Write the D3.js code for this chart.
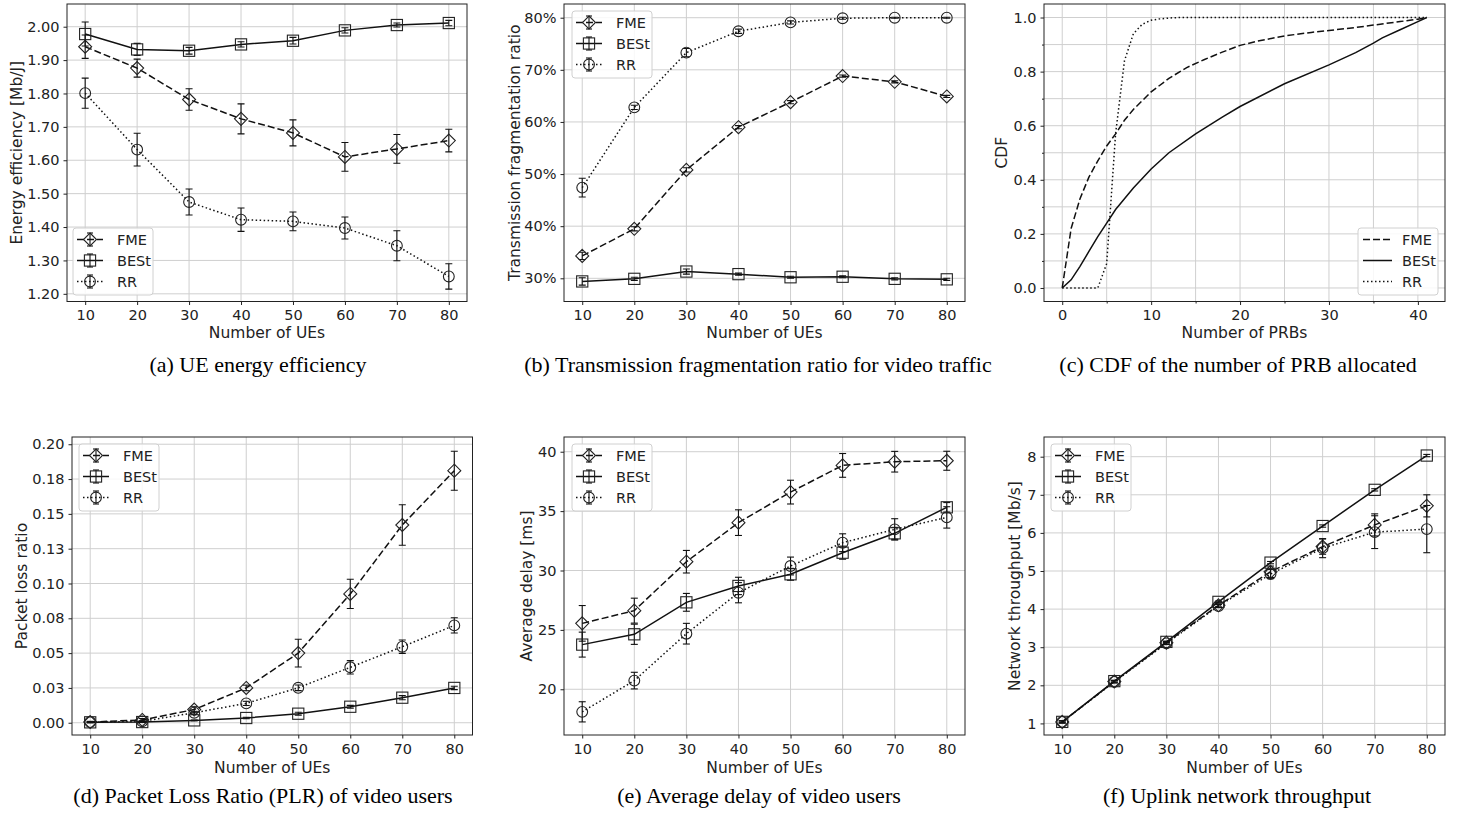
<!DOCTYPE html>
<html><head><meta charset="utf-8">
<script src="https://cdn.jsdelivr.net/npm/d3@7"></script>
<style>body{margin:0;background:#fff}svg{display:block}</style>
</head><body>
<script>
// ---------------- DATA ----------------
const ues = [10, 20, 30, 40, 50, 60, 70, 80];
const seriesNames = ["FME", "BESt", "RR"];

// (a) UE energy efficiency [Mb/J]
const eeFME = [1.940, 1.876, 1.782, 1.724, 1.682, 1.610, 1.634, 1.659];
const eeFMEErr = [0.035, 0.027, 0.032, 0.045, 0.039, 0.043, 0.043, 0.034];
const eeBESt = [1.978, 1.932, 1.928, 1.947, 1.958, 1.989, 2.005, 2.011];
const eeBEStErr = [0.036, 0.018, 0.010, 0.008, 0.010, 0.008, 0.006, 0.008];
const eeRR = [1.801, 1.632, 1.475, 1.422, 1.417, 1.397, 1.344, 1.252];
const eeRRErr = [0.045, 0.049, 0.039, 0.035, 0.028, 0.033, 0.045, 0.038];
const eeTicks = [1.2, 1.3, 1.4, 1.5, 1.6, 1.7, 1.8, 1.9, 2.0];
const eeTickLabels = ["1.20", "1.30", "1.40", "1.50", "1.60", "1.70", "1.80", "1.90", "2.00"];

// (b) Transmission fragmentation ratio [%]
const fragFME = [34.3, 39.5, 50.8, 59.0, 63.8, 68.8, 67.7, 64.9];
const fragFMEErr = [0.7, 0.4, 0.4, 0.3, 0.3, 0.2, 0.2, 0.2];
const fragBESt = [29.4, 29.9, 31.3, 30.8, 30.2, 30.3, 29.9, 29.8];
const fragBEStErr = [0.7, 0.3, 0.5, 0.2, 0.2, 0.2, 0.2, 0.2];
const fragRR = [47.4, 62.8, 73.3, 77.4, 79.1, 79.9, 80.0, 80.0];
const fragRRErr = [1.8, 0.4, 0.8, 0.4, 0.3, 0.2, 0.1, 0.1];
const fragTicks = [30, 40, 50, 60, 70, 80];
const fragTickLabels = ["30%", "40%", "50%", "60%", "70%", "80%"];

// (c) CDF of the number of PRBs allocated
const cdfFMEx = [0, 1, 2, 3, 4, 5, 6, 7, 8, 10, 12, 14, 16, 18, 20, 22, 25, 28, 30, 33, 35, 38, 40, 41];
const cdfFMEy = [0, 0.22, 0.33, 0.41, 0.47, 0.525, 0.57, 0.62, 0.66, 0.725, 0.775, 0.815, 0.845, 0.872, 0.897, 0.913, 0.932, 0.945, 0.952, 0.963, 0.972, 0.985, 0.994, 1.0];
const cdfBEStx = [0, 1, 2, 3, 4, 5, 6, 8, 10, 12, 15, 18, 20, 25, 30, 33, 35, 36, 38, 40, 41];
const cdfBESty = [0, 0.03, 0.08, 0.135, 0.19, 0.24, 0.29, 0.37, 0.44, 0.5, 0.57, 0.632, 0.671, 0.755, 0.825, 0.87, 0.905, 0.925, 0.955, 0.985, 1.0];
const cdfRRx = [0, 4, 5, 6, 7, 8, 9, 10, 11, 12, 13, 41];
const cdfRRy = [0, 0, 0.09, 0.57, 0.84, 0.94, 0.975, 0.99, 0.995, 0.998, 1.0, 1.0];
const prbTicks = [0, 10, 20, 30, 40];
const prbMinorTicks = [5, 15, 25, 35];
const cdfTicks = [0, 0.2, 0.4, 0.6, 0.8, 1.0];
const cdfMinorTicks = [0.1, 0.3, 0.5, 0.7, 0.9];

// (d) Packet loss ratio
const plrFME = [0.0005, 0.002, 0.0095, 0.025, 0.050, 0.0925, 0.142, 0.181];
const plrFMEErr = [0.0005, 0.001, 0.002, 0.002, 0.010, 0.0105, 0.0145, 0.014];
const plrBESt = [0.0003, 0.0005, 0.0017, 0.0034, 0.0065, 0.0115, 0.018, 0.025];
const plrBEStErr = [0.0003, 0.0003, 0.0003, 0.0005, 0.001, 0.001, 0.0015, 0.0012];
const plrRR = [0.0005, 0.001, 0.0072, 0.0139, 0.0251, 0.0398, 0.0546, 0.0699];
const plrRRErr = [0.0003, 0.0005, 0.001, 0.0015, 0.002, 0.0048, 0.0048, 0.0055];
const plrTicks = [0, 0.025, 0.05, 0.075, 0.1, 0.125, 0.15, 0.175, 0.2];
const plrTickLabels = ["0.00", "0.03", "0.05", "0.08", "0.10", "0.13", "0.15", "0.18", "0.20"];

// (e) Average delay [ms]
const delFME = [25.55, 26.62, 30.74, 34.03, 36.6, 38.85, 39.16, 39.24];
const delFMEErr = [1.5, 1.05, 0.95, 1.08, 1.0, 1.0, 0.87, 0.8];
const delBESt = [23.76, 24.63, 27.32, 28.7, 29.68, 31.5, 33.13, 35.32];
const delBEStErr = [1.05, 0.85, 0.75, 0.73, 0.5, 0.55, 0.5, 0.4];
const delRR = [18.1, 20.73, 24.68, 28.13, 30.38, 32.34, 33.46, 34.47];
const delRRErr = [0.85, 0.7, 0.87, 0.85, 0.75, 0.75, 0.9, 0.9];
const delTicks = [20, 25, 30, 35, 40];

// (f) Uplink network throughput [Mb/s]
const thrFME = [1.04, 2.10, 3.12, 4.10, 4.98, 5.64, 6.21, 6.71];
const thrFMEErr = [0.03, 0.03, 0.03, 0.04, 0.15, 0.2, 0.29, 0.29];
const thrBESt = [1.04, 2.11, 3.14, 4.19, 5.22, 6.18, 7.13, 8.03];
const thrBEStErr = [0.02, 0.02, 0.02, 0.02, 0.03, 0.03, 0.03, 0.03];
const thrRR = [1.04, 2.09, 3.10, 4.08, 4.92, 5.60, 6.02, 6.10];
const thrRRErr = [0.03, 0.03, 0.03, 0.04, 0.12, 0.25, 0.43, 0.62];
const thrTicks = [1, 2, 3, 4, 5, 6, 7, 8];

const captions = [
  "(a) UE energy efficiency",
  "(b) Transmission fragmentation ratio for video traffic",
  "(c) CDF of the number of PRB allocated",
  "(d) Packet Loss Ratio (PLR) of video users",
  "(e) Average delay of video users",
  "(f) Uplink network throughput"
];

// ---------------- STYLE ----------------
const INK = "#111";
const GRID = "#cfcfcf";
const FONT = "'DejaVu Sans', sans-serif";
const styleOf = {
  FME: {dash: "7,3", marker: "diamond"},
  BESt: {dash: null, marker: "square"},
  RR: {dash: "1.5,2.5", marker: "circle"}
};

const svg = d3.select("body").append("svg").attr("width", 1458).attr("height", 814);
svg.append("rect").attr("width", 1458).attr("height", 814).attr("fill", "#fff");

function drawMarker(g, type, cx, cy) {
  if (type === "diamond") {
    const s = 6.5;
    g.append("path").attr("d", `M${cx},${cy - s}L${cx + s},${cy}L${cx},${cy + s}L${cx - s},${cy}Z`)
      .attr("fill", "none").attr("stroke", "#222").attr("stroke-width", 1.1);
  } else if (type === "square") {
    const s = 5.6;
    g.append("rect").attr("x", cx - s).attr("y", cy - s).attr("width", 2 * s).attr("height", 2 * s)
      .attr("fill", "none").attr("stroke", "#222").attr("stroke-width", 1.1);
  } else {
    g.append("circle").attr("cx", cx).attr("cy", cy).attr("r", 5.4)
      .attr("fill", "none").attr("stroke", "#222").attr("stroke-width", 1.1);
  }
}

function panel(cfg) {
  const g = svg.append("g");
  const x = d3.scaleLinear().domain(cfg.xDomain).range([cfg.l, cfg.r]);
  const y = d3.scaleLinear().domain(cfg.yDomain).range([cfg.b, cfg.t]);
  // grid
  g.append("g").selectAll("line").data(cfg.xGrid).join("line")
    .attr("x1", d => x(d)).attr("x2", d => x(d)).attr("y1", cfg.t).attr("y2", cfg.b)
    .attr("stroke", GRID).attr("stroke-width", 1);
  g.append("g").selectAll("line").data(cfg.yGrid).join("line")
    .attr("y1", d => y(d)).attr("y2", d => y(d)).attr("x1", cfg.l).attr("x2", cfg.r)
    .attr("stroke", GRID).attr("stroke-width", 1);
  // axes
  const ax = g.append("g").attr("transform", `translate(0,${cfg.b})`)
    .call(d3.axisBottom(x).tickValues(cfg.xTicks).tickFormat(cfg.xFmt).tickSize(3.5).tickPadding(5));
  const ay = g.append("g").attr("transform", `translate(${cfg.l},0)`)
    .call(d3.axisLeft(y).tickValues(cfg.yTicks).tickFormat(cfg.yFmt).tickSize(3.5).tickPadding(4));
  [ax, ay].forEach(a => {
    a.select(".domain").remove();
    a.selectAll("line").attr("stroke", "#222");
    a.selectAll("text").attr("font-family", FONT).attr("font-size", 14.5).attr("fill", "#222");
  });
  if (cfg.xMinor) {
    g.append("g").attr("transform", `translate(0,${cfg.b})`)
      .call(d3.axisBottom(x).tickValues(cfg.xMinor).tickFormat("").tickSize(2))
      .call(a => { a.select(".domain").remove(); a.selectAll("line").attr("stroke", "#222"); });
    g.append("g").attr("transform", `translate(${cfg.l},0)`)
      .call(d3.axisLeft(y).tickValues(cfg.yMinor).tickFormat("").tickSize(2))
      .call(a => { a.select(".domain").remove(); a.selectAll("line").attr("stroke", "#222"); });
  }
  // series
  const clip = "clip" + cfg.id;
  g.append("clipPath").attr("id", clip).append("rect")
    .attr("x", cfg.l).attr("y", cfg.t).attr("width", cfg.r - cfg.l).attr("height", cfg.b - cfg.t);
  const sg = g.append("g").attr("clip-path", `url(#${clip})`);
  cfg.series.forEach(s => {
    const st = styleOf[s.name];
    const pts = s.xs.map((xv, i) => [xv, s.ys[i]]);
    const line = d3.line().x(d => x(d[0])).y(d => y(d[1]));
    const p = sg.append("path").attr("d", line(pts)).attr("fill", "none")
      .attr("stroke", INK).attr("stroke-width", 1.5);
    if (st.dash) p.attr("stroke-dasharray", st.dash);
    if (s.errs) {
      pts.forEach((d, i) => {
        const e = s.errs[i];
        const cx = x(d[0]), y1 = y(d[1] - e), y2 = y(d[1] + e);
        sg.append("line").attr("x1", cx).attr("x2", cx).attr("y1", y1).attr("y2", y2)
          .attr("stroke", INK).attr("stroke-width", 1.1);
        [y1, y2].forEach(yy => sg.append("line").attr("x1", cx - 3.5).attr("x2", cx + 3.5)
          .attr("y1", yy).attr("y2", yy).attr("stroke", INK).attr("stroke-width", 1.1));
      });
      pts.forEach(d => drawMarker(sg, st.marker, x(d[0]), y(d[1])));
    }
  });
  // frame
  g.append("rect").attr("x", cfg.l).attr("y", cfg.t).attr("width", cfg.r - cfg.l).attr("height", cfg.b - cfg.t)
    .attr("fill", "none").attr("stroke", "#222").attr("stroke-width", 1);
  // labels
  g.append("text").attr("x", (cfg.l + cfg.r) / 2).attr("y", cfg.xLabelY).attr("text-anchor", "middle")
    .attr("font-family", FONT).attr("font-size", 15.5).attr("fill", "#222").text(cfg.xLabel);
  g.append("text").attr("transform", `translate(${cfg.yLabelX},${(cfg.t + cfg.b) / 2}) rotate(-90)`)
    .attr("text-anchor", "middle").attr("dy", "0.35em")
    .attr("font-family", FONT).attr("font-size", 15.5).attr("fill", "#222").text(cfg.yLabel);
  // legend
  const lg = g.append("g");
  const lx = cfg.legend[0], ly = cfg.legend[1];
  lg.append("rect").attr("x", lx).attr("y", ly).attr("width", 80).attr("height", 67).attr("rx", 3)
    .attr("fill", "#fff").attr("fill-opacity", 0.85).attr("stroke", "#d0d0d0").attr("stroke-width", 1);
  cfg.series.forEach((s, i) => {
    const st = styleOf[s.name];
    const ry = ly + 11.5 + i * 21;
    const withErr = !!s.errs;
    const x1 = withErr ? lx + 4 : lx + 5, x2 = withErr ? lx + 30 : lx + 34;
    const ln = lg.append("line").attr("x1", x1).attr("x2", x2).attr("y1", ry).attr("y2", ry)
      .attr("stroke", INK).attr("stroke-width", 1.5);
    if (st.dash) ln.attr("stroke-dasharray", st.dash);
    if (withErr) {
      const cx = (x1 + x2) / 2;
      lg.append("line").attr("x1", cx).attr("x2", cx).attr("y1", ry - 6.5).attr("y2", ry + 6.5)
        .attr("stroke", INK).attr("stroke-width", 1.1);
      [ry - 6.5, ry + 6.5].forEach(yy => lg.append("line").attr("x1", cx - 3).attr("x2", cx + 3)
        .attr("y1", yy).attr("y2", yy).attr("stroke", INK).attr("stroke-width", 1.1));
      drawMarker(lg, st.marker, cx, ry);
    }
    lg.append("text").attr("x", lx + 44).attr("y", ry).attr("dy", "0.35em")
      .attr("font-family", FONT).attr("font-size", 14.5).attr("fill", "#222").text(s.name);
  });
  // caption
  svg.append("text").attr("transform", `translate(${cfg.capX},${cfg.capY}) scale(1.1,1)`)
    .attr("text-anchor", "middle")
    .attr("font-family", "'Liberation Serif', 'Times New Roman', serif").attr("font-size", 20)
    .attr("fill", "#000").text(cfg.caption);
}

const byIndex = arr => (d, i) => arr[i];
const mk = (xs, a, b, c, ea, eb, ec) => [
  {name: seriesNames[0], xs: xs, ys: a, errs: ea},
  {name: seriesNames[1], xs: xs, ys: b, errs: eb},
  {name: seriesNames[2], xs: xs, ys: c, errs: ec}
];

panel({id: "a", l: 67, r: 467, t: 4, b: 301.5, xDomain: [6.5, 83.5], yDomain: [1.177, 2.068],
  xTicks: ues, yTicks: eeTicks, xGrid: ues, yGrid: eeTicks, xFmt: d3.format("d"), yFmt: byIndex(eeTickLabels),
  xLabel: "Number of UEs", yLabel: "Energy efficiency [Mb/J]", xLabelY: 338, yLabelX: 17,
  series: mk(ues, eeFME, eeBESt, eeRR, eeFMEErr, eeBEStErr, eeRRErr),
  legend: [73, 228], caption: captions[0], capX: 258, capY: 372});

panel({id: "b", l: 564, r: 965, t: 4, b: 301.5, xDomain: [6.5, 83.5], yDomain: [25.55, 82.63],
  xTicks: ues, yTicks: fragTicks, xGrid: ues, yGrid: fragTicks, xFmt: d3.format("d"), yFmt: byIndex(fragTickLabels),
  xLabel: "Number of UEs", yLabel: "Transmission fragmentation ratio", xLabelY: 338, yLabelX: 515,
  series: mk(ues, fragFME, fragBESt, fragRR, fragFMEErr, fragBEStErr, fragRRErr),
  legend: [572, 11], caption: captions[1], capX: 758, capY: 372});

panel({id: "c", l: 1044, r: 1445, t: 4, b: 301.5, xDomain: [-2.05, 43.05], yDomain: [-0.05, 1.05],
  xTicks: prbTicks, yTicks: cdfTicks, xMinor: prbMinorTicks, yMinor: cdfMinorTicks,
  xGrid: prbTicks.concat(prbMinorTicks), yGrid: cdfTicks.concat(cdfMinorTicks),
  xFmt: d3.format("d"), yFmt: d3.format(".1f"),
  xLabel: "Number of PRBs", yLabel: "CDF", xLabelY: 338, yLabelX: 1002,
  series: [
    {name: seriesNames[0], xs: cdfFMEx, ys: cdfFMEy},
    {name: seriesNames[1], xs: cdfBEStx, ys: cdfBESty},
    {name: seriesNames[2], xs: cdfRRx, ys: cdfRRy}
  ],
  legend: [1358, 228], caption: captions[2], capX: 1238, capY: 372});

panel({id: "d", l: 72, r: 472.5, t: 437, b: 735, xDomain: [6.5, 83.5], yDomain: [-0.0088, 0.2052],
  xTicks: ues, yTicks: plrTicks, xGrid: ues, yGrid: plrTicks, xFmt: d3.format("d"), yFmt: byIndex(plrTickLabels),
  xLabel: "Number of UEs", yLabel: "Packet loss ratio", xLabelY: 773, yLabelX: 22,
  series: mk(ues, plrFME, plrBESt, plrRR, plrFMEErr, plrBEStErr, plrRRErr),
  legend: [79, 444], caption: captions[3], capX: 263, capY: 803});

panel({id: "e", l: 564, r: 965, t: 437, b: 735, xDomain: [6.5, 83.5], yDomain: [16.15, 41.24],
  xTicks: ues, yTicks: delTicks, xGrid: ues, yGrid: delTicks, xFmt: d3.format("d"), yFmt: d3.format("d"),
  xLabel: "Number of UEs", yLabel: "Average delay [ms]", xLabelY: 773, yLabelX: 527,
  series: mk(ues, delFME, delBESt, delRR, delFMEErr, delBEStErr, delRRErr),
  legend: [572, 444], caption: captions[4], capX: 759, capY: 803});

panel({id: "f", l: 1044, r: 1445, t: 437, b: 735, xDomain: [6.5, 83.5], yDomain: [0.696, 8.517],
  xTicks: ues, yTicks: thrTicks, xGrid: ues, yGrid: thrTicks, xFmt: d3.format("d"), yFmt: d3.format("d"),
  xLabel: "Number of UEs", yLabel: "Network throughput [Mb/s]", xLabelY: 773, yLabelX: 1015,
  series: mk(ues, thrFME, thrBESt, thrRR, thrFMEErr, thrBEStErr, thrRRErr),
  legend: [1051, 444], caption: captions[5], capX: 1237, capY: 803});
</script>
</body></html>
